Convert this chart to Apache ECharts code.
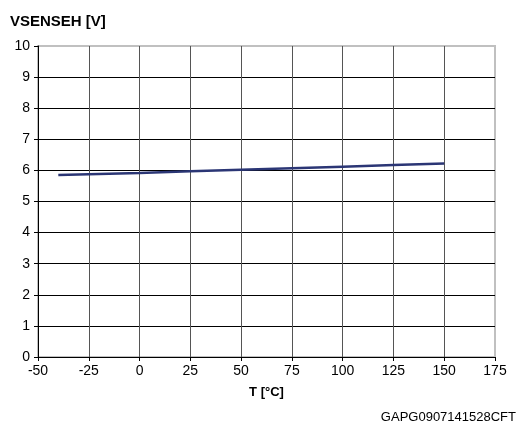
<!DOCTYPE html>
<html>
<head>
<meta charset="utf-8">
<script src="https://cdn.jsdelivr.net/npm/echarts@6/dist/echarts.min.js"></script>
<style>
  html, body { margin: 0; padding: 0; background: #fff; }
  #main { width: 525px; height: 434px; }
</style>
</head>
<body>
<div id="main"></div>
<script>
// data
var temps = [-40, 0, 25, 50, 75, 100, 125, 150];
var vsenseh = [5.85, 5.92, 5.97, 6.02, 6.07, 6.12, 6.17, 6.22];

var pts = [];
for (var i = 0; i < temps.length; i++) {
  pts.push([temps[i], vsenseh[i]]);
}

var chart = echarts.init(document.getElementById("main"));
chart.setOption({
  animation: false,
  textStyle: { fontFamily: "Liberation Sans, Arial, sans-serif" },
  title: [
    {
      text: "VSENSEH [V]",
      left: 5,
      top: 9,
      textStyle: { fontSize: 15, fontWeight: "bold", color: "#000" }
    },
    {
      text: "GAPG0907141528CFT",
      right: 4,
      top: 406,
      textStyle: { fontSize: 13, fontWeight: "normal", color: "#000" }
    }
  ],
  grid: {
    left: 38,
    right: 30,
    top: 46,
    bottom: 77,
    show: true,
    borderColor: "#c0c0c0",
    borderWidth: 2
  },
  xAxis: {
    type: "value",
    min: -50,
    max: 175,
    interval: 25,
    name: "T [°C]",
    nameLocation: "middle",
    nameGap: 29,
    nameTextStyle: { fontSize: 13, fontWeight: "bold", color: "#000" },
    axisLine: { show: true, onZero: false, lineStyle: { color: "#000", width: 1 } },
    axisTick: { show: true, length: 4, lineStyle: { color: "#000" } },
    axisLabel: { fontSize: 14, color: "#000", margin: 7 },
    splitLine: { show: true, showMaxLine: false, lineStyle: { color: "#555", width: 1 } }
  },
  yAxis: {
    type: "value",
    min: 0,
    max: 10,
    interval: 1,
    axisLine: { show: true, onZero: false, lineStyle: { color: "#000", width: 1 } },
    axisTick: { show: true, length: 4, lineStyle: { color: "#000" } },
    axisLabel: { fontSize: 14, color: "#000", margin: 8 },
    splitLine: { show: true, showMaxLine: false, lineStyle: { color: "#000", width: 1 } }
  },
  series: [
    {
      type: "line",
      data: pts,
      symbol: "none",
      lineStyle: { color: "#2b3675", width: 2.5 }
    }
  ]
});
</script>
</body>
</html>
